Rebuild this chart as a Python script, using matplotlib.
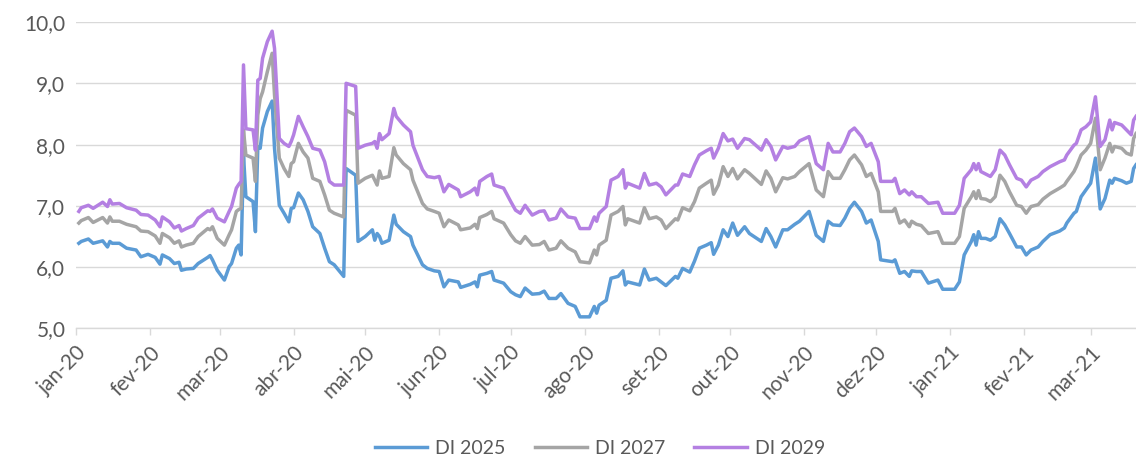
import numpy as np
import pandas as pd
import matplotlib
matplotlib.use("Agg")
import matplotlib.pyplot as plt
import matplotlib.dates as mdates
from matplotlib.ticker import FuncFormatter

# DI futures rates (% a.a.)
dates = [
    "2020-01-02", "2020-01-03", "2020-01-06", "2020-01-08", "2020-01-12", "2020-01-14",
    "2020-01-15", "2020-01-16", "2020-01-19", "2020-01-22", "2020-01-26", "2020-01-28",
    "2020-01-31", "2020-02-03", "2020-02-05", "2020-02-06", "2020-02-09", "2020-02-11",
    "2020-02-13", "2020-02-14", "2020-02-16", "2020-02-19", "2020-02-21", "2020-02-25",
    "2020-02-26", "2020-02-27", "2020-02-29", "2020-03-03", "2020-03-05", "2020-03-06",
    "2020-03-08", "2020-03-09", "2020-03-10", "2020-03-11", "2020-03-12", "2020-03-15",
    "2020-03-16", "2020-03-17", "2020-03-18", "2020-03-19", "2020-03-21", "2020-03-23",
    "2020-03-24", "2020-03-26", "2020-03-28", "2020-03-30", "2020-03-31", "2020-04-01",
    "2020-04-03", "2020-04-05", "2020-04-07", "2020-04-09", "2020-04-12", "2020-04-14",
    "2020-04-16", "2020-04-18", "2020-04-22", "2020-04-23", "2020-04-27", "2020-04-28",
    "2020-05-01", "2020-05-04", "2020-05-05", "2020-05-06", "2020-05-07", "2020-05-08",
    "2020-05-11", "2020-05-13", "2020-05-14", "2020-05-17", "2020-05-20", "2020-05-21",
    "2020-05-25", "2020-05-27", "2020-05-30", "2020-06-01", "2020-06-03", "2020-06-05",
    "2020-06-09", "2020-06-10", "2020-06-14", "2020-06-16", "2020-06-17", "2020-06-18",
    "2020-06-21", "2020-06-23", "2020-06-24", "2020-06-28", "2020-07-01", "2020-07-03",
    "2020-07-05", "2020-07-07", "2020-07-10", "2020-07-13", "2020-07-15", "2020-07-17",
    "2020-07-20", "2020-07-22", "2020-07-25", "2020-07-28", "2020-07-30", "2020-08-03",
    "2020-08-05", "2020-08-06", "2020-08-07", "2020-08-10", "2020-08-12", "2020-08-15",
    "2020-08-17", "2020-08-18", "2020-08-19", "2020-08-24", "2020-08-26", "2020-08-28",
    "2020-08-31", "2020-09-02", "2020-09-04", "2020-09-08", "2020-09-09", "2020-09-11",
    "2020-09-14", "2020-09-16", "2020-09-18", "2020-09-21", "2020-09-23", "2020-09-24",
    "2020-09-26", "2020-09-28", "2020-09-30", "2020-10-02", "2020-10-04", "2020-10-07",
    "2020-10-09", "2020-10-14", "2020-10-16", "2020-10-18", "2020-10-20", "2020-10-23",
    "2020-10-25", "2020-10-28", "2020-10-30", "2020-11-03", "2020-11-06", "2020-11-09",
    "2020-11-11", "2020-11-13", "2020-11-16", "2020-11-18", "2020-11-20", "2020-11-22",
    "2020-11-25", "2020-11-27", "2020-11-29", "2020-12-02", "2020-12-03", "2020-12-08",
    "2020-12-09", "2020-12-11", "2020-12-13", "2020-12-15", "2020-12-16", "2020-12-18",
    "2020-12-20", "2020-12-23", "2020-12-27", "2020-12-29", "2021-01-03", "2021-01-05",
    "2021-01-07", "2021-01-10", "2021-01-11", "2021-01-12", "2021-01-13", "2021-01-14",
    "2021-01-16", "2021-01-18", "2021-01-20", "2021-01-22", "2021-01-24", "2021-01-26",
    "2021-01-29", "2021-01-31", "2021-02-02", "2021-02-04", "2021-02-07", "2021-02-09",
    "2021-02-12", "2021-02-16", "2021-02-18", "2021-02-19", "2021-02-22", "2021-02-23",
    "2021-02-25", "2021-02-27", "2021-03-01", "2021-03-03", "2021-03-05", "2021-03-07",
    "2021-03-09", "2021-03-10", "2021-03-11", "2021-03-14", "2021-03-16", "2021-03-18",
    "2021-03-19", "2021-03-20",
]

di_2025 = [
    6.39, 6.42, 6.46, 6.39, 6.43, 6.33, 6.42, 6.39, 6.39, 6.31, 6.28, 6.17,
    6.21, 6.16, 6.05, 6.20, 6.14, 6.06, 6.08, 5.95, 5.97, 5.98, 6.06, 6.16,
    6.19, 6.12, 5.95, 5.79, 6.01, 6.06, 6.31, 6.36, 6.20, 7.83, 7.15, 7.07,
    6.58, 7.97, 7.94, 8.27, 8.54, 8.71, 7.94, 7.01, 6.88, 6.74, 6.96, 6.97,
    7.21, 7.10, 6.91, 6.66, 6.55, 6.31, 6.09, 6.04, 5.85, 7.61, 7.50, 6.42,
    6.50, 6.61, 6.44, 6.55, 6.50, 6.39, 6.44, 6.85, 6.70, 6.58, 6.50, 6.36,
    6.04, 5.98, 5.94, 5.93, 5.68, 5.79, 5.76, 5.67, 5.72, 5.76, 5.68, 5.87,
    5.90, 5.93, 5.79, 5.74, 5.60, 5.55, 5.52, 5.66, 5.56, 5.57, 5.61, 5.49,
    5.49, 5.57, 5.41, 5.36, 5.19, 5.19, 5.36, 5.25, 5.38, 5.46, 5.82, 5.85,
    5.94, 5.71, 5.76, 5.71, 5.97, 5.79, 5.82, 5.76, 5.70, 5.85, 5.82, 5.98,
    5.92, 6.10, 6.31, 6.36, 6.40, 6.21, 6.36, 6.61, 6.50, 6.72, 6.52, 6.66,
    6.55, 6.42, 6.63, 6.50, 6.33, 6.61, 6.61, 6.70, 6.75, 6.91, 6.52, 6.42,
    6.75, 6.69, 6.68, 6.80, 6.96, 7.06, 6.91, 6.72, 6.77, 6.42, 6.12, 6.09,
    6.12, 5.90, 5.93, 5.85, 5.94, 5.93, 5.93, 5.74, 5.79, 5.64, 5.64, 5.76,
    6.20, 6.42, 6.53, 6.36, 6.58, 6.47, 6.47, 6.44, 6.50, 6.79, 6.69, 6.55,
    6.33, 6.33, 6.20, 6.28, 6.33, 6.42, 6.53, 6.59, 6.64, 6.72, 6.88, 6.91,
    7.15, 7.26, 7.37, 7.78, 6.95, 7.12, 7.42, 7.37, 7.45, 7.41, 7.37, 7.40,
    7.61, 7.67,
]

di_2027 = [
    6.72, 6.76, 6.81, 6.73, 6.81, 6.72, 6.82, 6.75, 6.75, 6.70, 6.66, 6.59,
    6.58, 6.51, 6.39, 6.55, 6.48, 6.39, 6.43, 6.33, 6.36, 6.39, 6.50, 6.63,
    6.61, 6.66, 6.47, 6.36, 6.53, 6.61, 6.91, 6.94, 6.96, 8.24, 7.83, 7.78,
    7.40, 8.48, 8.75, 8.86, 9.19, 9.49, 8.81, 7.78, 7.61, 7.48, 7.69, 7.72,
    8.02, 7.88, 7.78, 7.45, 7.40, 7.18, 6.93, 6.88, 6.82, 8.56, 8.48, 7.37,
    7.45, 7.50, 7.42, 7.34, 7.57, 7.45, 7.48, 7.95, 7.83, 7.69, 7.59, 7.42,
    7.04, 6.95, 6.91, 6.88, 6.66, 6.77, 6.69, 6.61, 6.64, 6.70, 6.63, 6.81,
    6.86, 6.91, 6.79, 6.72, 6.53, 6.43, 6.39, 6.50, 6.36, 6.37, 6.42, 6.28,
    6.31, 6.43, 6.31, 6.25, 6.09, 6.07, 6.28, 6.20, 6.36, 6.44, 6.85, 6.91,
    6.99, 6.69, 6.79, 6.72, 6.97, 6.79, 6.82, 6.77, 6.63, 6.79, 6.77, 6.97,
    6.92, 7.07, 7.29, 7.37, 7.42, 7.19, 7.34, 7.64, 7.48, 7.61, 7.44, 7.59,
    7.53, 7.35, 7.57, 7.45, 7.23, 7.46, 7.44, 7.48, 7.56, 7.69, 7.26, 7.15,
    7.56, 7.45, 7.45, 7.59, 7.75, 7.83, 7.67, 7.48, 7.53, 7.23, 6.91, 6.91,
    6.96, 6.72, 6.77, 6.66, 6.75, 6.70, 6.68, 6.55, 6.58, 6.39, 6.39, 6.50,
    6.96, 7.15, 7.23, 7.12, 7.25, 7.12, 7.11, 7.07, 7.15, 7.50, 7.40, 7.23,
    7.01, 6.99, 6.88, 6.99, 7.02, 7.11, 7.20, 7.29, 7.34, 7.40, 7.56, 7.64,
    7.83, 7.91, 8.02, 8.43, 7.59, 7.78, 8.02, 7.88, 7.97, 7.94, 7.86, 7.83,
    8.10, 8.18,
]

di_2029 = [
    6.91, 6.97, 7.01, 6.96, 7.06, 6.99, 7.10, 7.03, 7.04, 6.97, 6.93, 6.86,
    6.85, 6.77, 6.66, 6.82, 6.74, 6.64, 6.68, 6.59, 6.63, 6.68, 6.80, 6.92,
    6.91, 6.95, 6.80, 6.74, 6.91, 6.99, 7.29, 7.35, 7.40, 9.30, 8.26, 8.24,
    7.91, 9.05, 9.08, 9.41, 9.68, 9.85, 9.57, 8.10, 8.02, 7.97, 8.05, 8.16,
    8.46, 8.29, 8.13, 7.94, 7.91, 7.72, 7.40, 7.34, 7.34, 9.00, 8.95, 7.94,
    7.99, 8.02, 8.05, 7.94, 8.18, 8.08, 8.18, 8.59, 8.46, 8.32, 8.21, 7.99,
    7.59, 7.48, 7.46, 7.48, 7.23, 7.35, 7.26, 7.15, 7.23, 7.29, 7.18, 7.40,
    7.48, 7.52, 7.34, 7.29, 7.07, 6.93, 6.88, 7.01, 6.85, 6.91, 6.92, 6.77,
    6.80, 6.95, 6.82, 6.80, 6.63, 6.63, 6.82, 6.75, 6.88, 6.99, 7.42, 7.48,
    7.59, 7.29, 7.37, 7.29, 7.53, 7.34, 7.37, 7.31, 7.18, 7.34, 7.34, 7.52,
    7.48, 7.67, 7.83, 7.90, 7.94, 7.78, 7.94, 8.18, 8.06, 8.09, 7.94, 8.10,
    8.08, 7.91, 8.08, 7.97, 7.75, 7.97, 7.94, 7.97, 8.06, 8.13, 7.69, 7.59,
    8.02, 7.88, 7.88, 8.02, 8.21, 8.27, 8.13, 7.97, 8.02, 7.72, 7.40, 7.40,
    7.45, 7.20, 7.26, 7.18, 7.23, 7.15, 7.15, 7.04, 7.06, 6.88, 6.88, 7.01,
    7.45, 7.59, 7.69, 7.59, 7.69, 7.56, 7.52, 7.48, 7.59, 7.91, 7.83, 7.67,
    7.45, 7.42, 7.31, 7.42, 7.48, 7.56, 7.64, 7.72, 7.75, 7.83, 7.99, 8.02,
    8.24, 8.29, 8.37, 8.78, 7.97, 8.08, 8.40, 8.24, 8.36, 8.32, 8.24, 8.16,
    8.40, 8.46,
]

series_names = ["DI 2025", "DI 2027", "DI 2029"]
colors = ["#5B9BD5", "#A5A5A5", "#B480E2"]
meses = ["jan", "fev", "mar", "abr", "mai", "jun",
         "jul", "ago", "set", "out", "nov", "dez"]

plt.rcParams["font.family"] = ["Lato", "DejaVu Sans"]

x = pd.to_datetime(dates)

fig = plt.figure(figsize=(11.36, 4.63), dpi=100)
ax = fig.add_axes([0.0673, 0.2905, 0.9327, 0.662])

for vals, name, c in zip([di_2025, di_2027, di_2029], series_names, colors):
    ax.plot(x, vals, color=c, lw=2.5, label=name, solid_joinstyle="round")

ax.set_ylim(5.0, 10.0)
ax.set_yticks(np.arange(5.0, 10.01, 1.0))
ax.yaxis.set_major_formatter(FuncFormatter(lambda v, p: f"{v:.1f}".replace(".", ",")))
ax.set_xlim(pd.Timestamp("2020-01-01"), pd.Timestamp("2021-03-20"))

ax.xaxis.set_major_locator(mdates.MonthLocator())
ax.xaxis.set_major_formatter(FuncFormatter(
    lambda v, p: f"{meses[mdates.num2date(v).month - 1]}-{mdates.num2date(v).strftime('%y')}"))

ax.grid(axis="y", color="#D9D9D9", lw=1.0)
ax.set_axisbelow(True)
for s in ["top", "right", "left"]:
    ax.spines[s].set_visible(False)
ax.spines["bottom"].set_color("#D9D9D9")
ax.spines["bottom"].set_linewidth(1.0)

ax.tick_params(axis="y", length=0, pad=8, labelsize=15, labelcolor="#595959")
ax.tick_params(axis="x", length=5, width=1, color="#D9D9D9", pad=5,
               labelsize=15, labelcolor="#595959")
for lbl in ax.get_xticklabels():
    lbl.set_rotation(45)
    lbl.set_ha("right")
    lbl.set_va("top")
    lbl.set_rotation_mode("anchor")

fig.legend(loc="lower center", bbox_to_anchor=(0.528, -0.025), ncol=3, frameon=False,
           fontsize=14, handlelength=2.7, columnspacing=1.5, handletextpad=0.4,
           labelcolor="#595959")

fig.savefig("out.png", dpi=100)
